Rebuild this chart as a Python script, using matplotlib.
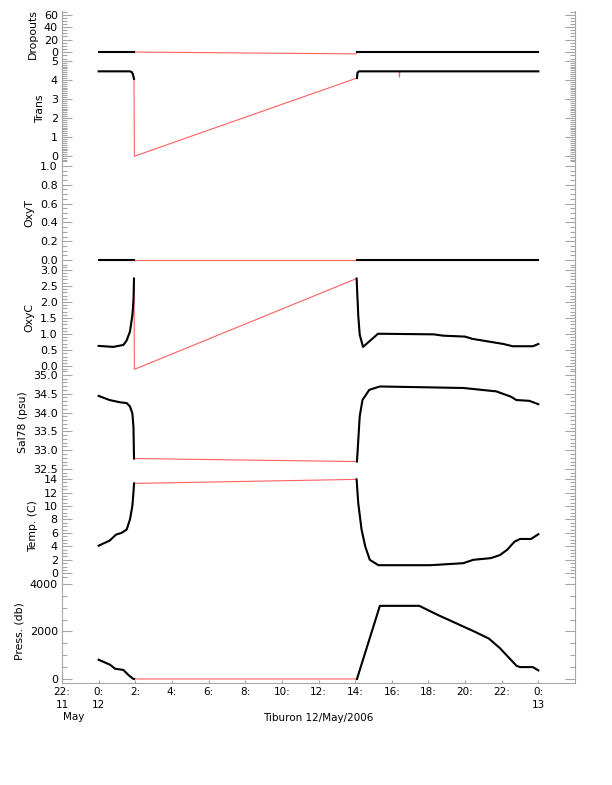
import numpy as np
import matplotlib.pyplot as plt
from matplotlib.ticker import MultipleLocator

# -------- Data (hours from 00:00 12 May 2006) --------
drop_t1 = [0.0, 1.93]
drop_v1 = [0, 0]
drop_gap_t = [1.95, 14.05]
drop_gap_v = [0, -3]
drop_t2 = [14.1, 24.0]
drop_v2 = [0, 0]

trans_t1 = [0.0, 1.70, 1.80, 1.87, 1.93]
trans_v1 = [4.45, 4.45, 4.42, 4.30, 4.05]
trans_gap_t = [1.95]
trans_gap_v = [0.0]
trans_t2 = [14.1, 14.13, 14.2, 16.40, 16.42, 16.44, 24.0]
trans_v2 = [4.10, 4.38, 4.45, 4.45, 4.15, 4.45, 4.45]
trans_bad = [False, False, False, False, True, False, False]

oxyt_t1 = [0.0, 1.93]
oxyt_v1 = [0.0, 0.0]
oxyt_gap_t = []
oxyt_gap_v = []
oxyt_t2 = [14.1, 24.0]
oxyt_v2 = [0.0, 0.0]

oxyc_t1 = [0.0, 0.8, 1.35, 1.53, 1.71, 1.84, 1.90, 1.93]
oxyc_v1 = [0.63, 0.60, 0.66, 0.80, 1.08, 1.58, 2.03, 2.73]
oxyc_gap_t = [1.95]
oxyc_gap_v = [-0.1]
oxyc_t2 = [14.08, 14.17, 14.25, 14.43, 15.25, 18.3, 18.8, 20.0, 20.4, 22.1, 22.6, 23.7, 24.0]
oxyc_v2 = [2.73, 1.58, 0.98, 0.60, 1.01, 0.99, 0.95, 0.92, 0.85, 0.69, 0.62, 0.62, 0.69]

sal_t1 = [0.0, 0.6, 1.17, 1.53, 1.71, 1.84, 1.90, 1.93]
sal_v1 = [34.44, 34.33, 34.27, 34.25, 34.16, 33.98, 33.62, 32.78]
sal_gap_t = []
sal_gap_v = []
sal_t2 = [14.1, 14.25, 14.4, 14.77, 15.35, 19.9, 21.7, 22.5, 22.8, 23.5, 24.0]
sal_v2 = [32.70, 33.90, 34.33, 34.60, 34.69, 34.65, 34.56, 34.42, 34.33, 34.31, 34.22]

temp_t1 = [0.0, 0.6, 0.95, 1.25, 1.53, 1.71, 1.84, 1.90, 1.93]
temp_v1 = [4.1, 4.85, 5.75, 6.0, 6.5, 8.0, 10.0, 12.0, 13.35]
temp_gap_t = []
temp_gap_v = []
temp_t2 = [14.08, 14.17, 14.35, 14.55, 14.8, 15.27, 18.1, 19.9, 20.45, 21.4, 21.9, 22.3, 22.7, 23.0, 23.6, 24.0]
temp_v2 = [13.95, 10.4, 6.5, 4.0, 2.0, 1.2, 1.2, 1.5, 2.0, 2.25, 2.7, 3.5, 4.7, 5.1, 5.1, 5.8]

press_t1 = [0.0, 0.62, 0.9, 1.35, 1.62, 1.86, 1.93]
press_v1 = [810, 600, 430, 380, 170, 20, 0]
press_gap_t = []
press_gap_v = []
press_t2 = [14.1, 15.35, 17.5, 18.5, 19.5, 20.5, 21.3, 21.9, 22.8, 23.0, 23.7, 24.0]
press_v2 = [0, 3080, 3080, 2700, 2350, 2000, 1700, 1300, 560, 500, 500, 360]

xtick_pos = list(range(-2, 25, 2))
xtick_labels = ["22:\n11", "0:\n12"] + ["%d:" % h for h in range(2, 24, 2)] + ["0:\n13"]

# name, data, ylim, major, minor
panels = [
    ("Dropouts", drop_t1, drop_v1, drop_gap_t, drop_gap_v, drop_t2, drop_v2, (-8, 66), 20, 5),
    ("Trans", trans_t1, trans_v1, trans_gap_t, trans_gap_v, trans_t2, trans_v2, (-0.2, 5.15), 1, 0.1),
    ("OxyT", oxyt_t1, oxyt_v1, oxyt_gap_t, oxyt_gap_v, oxyt_t2, oxyt_v2, (-0.053, 1.053), 0.2, 0.05),
    ("OxyC", oxyc_t1, oxyc_v1, oxyc_gap_t, oxyc_gap_v, oxyc_t2, oxyc_v2, (-0.12, 3.12), 0.5, 0.1),
    ("Sal78 (psu)", sal_t1, sal_v1, sal_gap_t, sal_gap_v, sal_t2, sal_v2, (32.37, 35.1), 0.5, 0.1),
    ("Temp. (C)", temp_t1, temp_v1, temp_gap_t, temp_gap_v, temp_t2, temp_v2, (-0.7, 14.6), 2, 0.5),
    ("Press. (db)", press_t1, press_v1, press_gap_t, press_gap_v, press_t2, press_v2, (-170, 4210), 2000, 500),
]
fmts = ["%d", "%d", "%.1f", "%.1f", "%.1f", "%d", "%d"]

# pixel rows of each panel (top, bottom)
rows = [(11, 57), (58, 160), (161, 265), (266, 370), (371, 474), (475, 578), (579, 683)]

W, H = 612, 785
gray = "#a6a6a6"
red = "#ff6060"
plt.rcParams["font.family"] = "DejaVu Sans"

fig = plt.figure(figsize=(W / 100, H / 100), dpi=100)
x0, x1 = 62 / W, 575 / W

for i, (name, t1, v1, gt, gv, t2, v2, ylim, major, minor) in enumerate(panels):
    top, bot = rows[i]
    ax = fig.add_axes([x0, 1 - bot / H, x1 - x0, (bot - top) / H])
    # all samples in red, good samples in black on top
    ax.plot(t1 + gt + t2, v1 + gv + v2, color=red, lw=0.8, zorder=2)
    if name == "Trans":
        good = [v for v, b in zip(t2, trans_bad) if not b]
        goodv = [v for v, b in zip(v2, trans_bad) if not b]
        ax.plot(t1, v1, color="black", lw=1.5, zorder=3)
        ax.plot(good, goodv, color="black", lw=1.5, zorder=3)
    else:
        ax.plot(t1, v1, color="black", lw=1.5, zorder=3)
        ax.plot(t2, v2, color="black", lw=1.5, zorder=3)

    ax.set_xlim(-2, 26)
    ax.set_ylim(*ylim)
    ax.yaxis.set_major_locator(MultipleLocator(major))
    ax.yaxis.set_minor_locator(MultipleLocator(minor))
    ax.yaxis.set_major_formatter(plt.FormatStrFormatter(fmts[i]))
    ax.tick_params(axis="y", which="both", direction="in", left=True, right=True,
                   color=gray, width=0.8, labelsize=8, pad=3)
    ax.tick_params(axis="y", which="major", length=7.2)
    ax.tick_params(axis="y", which="minor", length=3.6)
    ax.set_ylabel(name, fontsize=7.8, labelpad=4)
    for s in ["left", "right", "bottom", "top"]:
        ax.spines[s].set_color(gray)
        ax.spines[s].set_linewidth(0.8)
    ax.spines["top"].set_visible(False)
    if i < len(panels) - 1:
        ax.spines["bottom"].set_visible(False)
        ax.set_xticks([])
    else:
        ax.set_xticks(xtick_pos)
        ax.set_xticklabels(xtick_labels, linespacing=1.4)
        ax.tick_params(axis="x", direction="in", length=2.5, color=gray, width=0.8,
                       labelsize=7.5, pad=3)

fig.text(63 / W, 1 - 717 / H, "May", fontsize=7.5, ha="left", va="center")
fig.text((x0 + x1) / 2, 1 - 718 / H, "Tiburon 12/May/2006", fontsize=7.5,
         ha="center", va="center")

fig.savefig("out.png", dpi=100)
